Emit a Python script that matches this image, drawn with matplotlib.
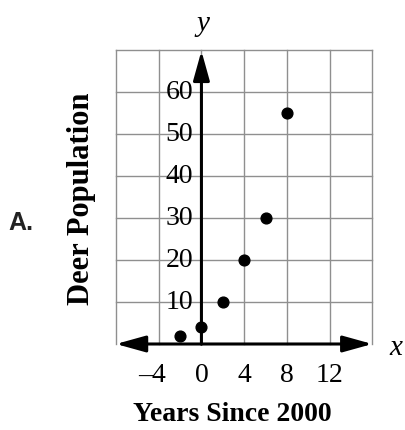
import matplotlib.pyplot as plt

# data
years = [-2, 0, 2, 4, 6, 8]
deer = [2, 4, 10, 20, 30, 55]

x_ticks = [-4, 0, 4, 8, 12]
x_labels = ["\u20134", "0", "4", "8", "12"]
y_ticks = [10, 20, 30, 40, 50, 60]
x_grid = [-8, -4, 0, 4, 8, 12, 16]
y_grid = [0, 10, 20, 30, 40, 50, 60, 70]

serif = "Liberation Serif"

fig = plt.figure(figsize=(4.06, 4.30), dpi=100)
ax = fig.add_axes([0.2857, 0.2, 0.6313, 0.6837])
ax.set_xlim(-8, 16)
ax.set_ylim(0, 70)

# grid
for gx in x_grid:
    ax.plot([gx, gx], [0, 70], color="#8f8f8f", lw=1.0, zorder=1, clip_on=False)
for gy in y_grid[1:]:
    ax.plot([-8, 16], [gy, gy], color="#8f8f8f", lw=1.0, zorder=1, clip_on=False)

ax.set_xticks([])
ax.set_yticks([])
for s in ax.spines.values():
    s.set_visible(False)

# axes with arrows
arrow = dict(arrowstyle="-|>,head_length=1.8,head_width=0.5", color="black", lw=2.2,
             shrinkA=0, shrinkB=0)
ax.annotate("", xy=(16.0, 0), xytext=(0, 0), arrowprops=arrow, annotation_clip=False, zorder=3)
ax.annotate("", xy=(-8.0, 0), xytext=(0, 0), arrowprops=arrow, annotation_clip=False, zorder=3)
ax.annotate("", xy=(0, 69.8), xytext=(0, 0), arrowprops=arrow, annotation_clip=False, zorder=3)

ax.scatter(years, deer, s=60, color="black", zorder=4, clip_on=False)

for t, lab in zip(x_ticks, x_labels):
    if t < 0:
        ax.text(t + 0.7, -4.5, lab, ha="right", va="top", fontsize=20, family=serif)
    else:
        ax.text(t, -4.5, lab, ha="center", va="top", fontsize=20, family=serif)
for t in y_ticks:
    ax.text(-0.8, t, str(t), ha="right", va="center", fontsize=20, family=serif)

ax.text(0.1, 73, "y", ha="center", va="bottom", fontsize=21, family=serif, style="italic")
ax.text(18.2, -1, "x", ha="center", va="center", fontsize=21, family=serif, style="italic")

fig.text(0.2, 0.537, "Deer Population", rotation=90, ha="center", va="center",
         fontsize=22, family=serif, weight="bold")
fig.text(0.571, 0.037, "Years Since 2000", ha="center", va="center",
         fontsize=20, family=serif, weight="bold")
fig.text(0.052, 0.481, "A.", ha="center", va="center", fontsize=18,
         family="Liberation Sans", weight="bold", color="#222222")

fig.savefig("out.png", dpi=100)
